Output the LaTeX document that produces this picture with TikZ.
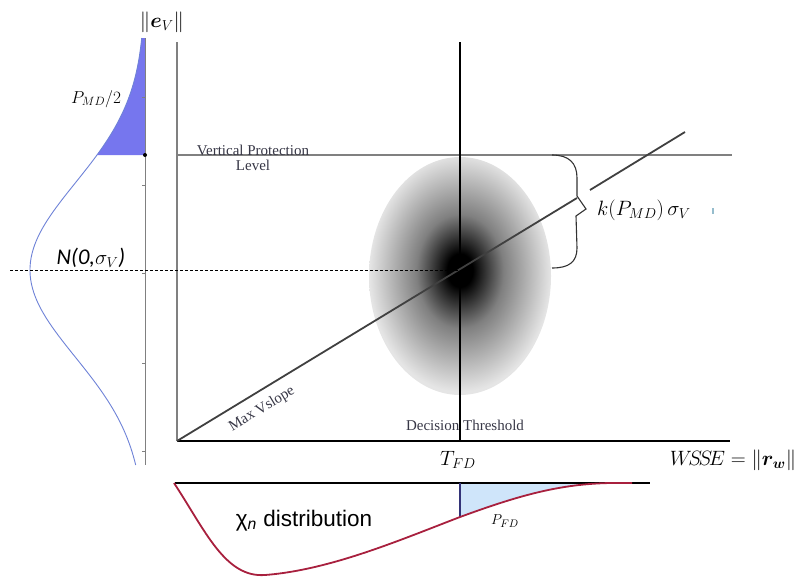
\documentclass[tikz,border=0pt]{standalone}
\usepackage{fontspec}
\usepackage{bm}
\newfontfamily\serifTNR{Liberation Serif}
\newfontfamily\sansArial{Liberation Sans}
\newfontfamily\sansCalibri{Carlito}
\definecolor{tailblue}{RGB}{118,118,238}
\definecolor{gausscurve}{RGB}{110,130,215}
\definecolor{chired}{RGB}{168,32,62}
\definecolor{fdblue}{RGB}{207,229,250}
\definecolor{axisgray}{RGB}{128,128,128}
\definecolor{labelgray}{RGB}{55,55,70}
\pgfdeclareradialshading{errorblob}{\pgfpoint{0bp}{1.3bp}}{color(0bp)=(black); color(3.5bp)=(black); color(12bp)=(black!50); color(25bp)=(black!10); color(50bp)=(black!10)}
\begin{document}
\begin{tikzpicture}[x=1pt, y=-1pt,
  oldlabel/.style={font=\serifTNR\fontsize{15}{15}\selectfont, text=labelgray, inner sep=0pt},
  mathlabel/.style={font=\fontsize{20}{24}\selectfont, inner sep=0pt}]
  \useasboundingbox (0,0) rectangle (805,576);

  % Error ellipse
  \shade[shading=errorblob] (460,276) ellipse (91 and 119);
  \coordinate (centre) at (460,270);

  % Axes
  \coordinate (origin) at (177,441);
  \draw[axisgray, line width=2.4] (177,42) -- (origin);
  \draw[line width=1.8] (origin) -- (730,441);
  \node[mathlabel] (ev) at (162,22) {$\|\bm{e}_V\|$};
  \node[mathlabel, font=\fontsize{21.5}{24}\selectfont] (wsse) at (733,460) {$W\!S\!S\!E=\|\bm{r}_{\bm{w}}\|$};

  % Vertical protection level
  \draw[axisgray, line width=2.4] (177,155) -- (732,155);
  \node[oldlabel, anchor=north, align=center] (vpl) at (253,145) {Vertical Protection\\Level};

  % Decision threshold
  \draw[line width=1.3] (460,42) -- (460,441);
  \node[oldlabel] (decision) at (465,425) {Decision Threshold};
  \node[mathlabel] (tfd) at (458,460) {$T_{FD}$};

  % Max Vslope line, broken at the brace
  \coordinate (gapL) at (577,198);
  \coordinate (gapR) at (590,190);
  \draw[black!75, line width=1.8] (origin) -- (gapL);
  \draw[black!75, line width=1.8] (gapR) -- (685,132);
  \node[oldlabel, rotate=31.2] (maxslope) at (262,409) {Max Vslope};

  % Brace k(P_MD) sigma_V
  \draw[black!80, line width=1.1] (552,155) .. controls (569,155) and (577,163) .. (577,178)
    -- (577,196) -- (586,209) -- (576,216) -- (577,248)
    .. controls (577,262) and (569,268) .. (552,268);
  \node[mathlabel, font=\fontsize{22}{24}\selectfont, anchor=west] (kpmd) at (597,210) {$k(P_{MD})\,\sigma_V$};
  \draw[cyan!40!gray!70, line width=1.1] (713,208) -- (713,214);

  % Gaussian of the vertical error
  \fill[tailblue] (145,38) -- plot[domain=38:155, samples=40] ({145-115*exp(-0.5*((\x-270)/87)^2)}, \x) -- (145,155) -- cycle;
  \draw[axisgray, line width=0.7] (145,38) -- (145,465);
  \foreach \ty in {97,185,273,363,451}
    \draw[axisgray, line width=0.6] (142,\ty) -- (145,\ty);
  \draw[gausscurve, line width=0.9] plot[domain=38:465, samples=100] ({145-115*exp(-0.5*((\x-270)/87)^2)}, \x);
  \fill (145,155) circle (2);
  \draw[densely dashed, line width=0.6] (10,270) -- (centre);
  \node[mathlabel, font=\fontsize{18}{20}\selectfont] (pmd) at (96,99) {$P_{MD}/2$};
  \node[font=\sansCalibri\itshape\fontsize{22.5}{24}\selectfont, inner sep=0pt] (nzero) at (91,258) {N(0,$\sigma_V$)};

  % Chi distribution of the WSSE
  \fill[fdblue] (460,483) -- (460,517) .. controls (520,495) and (560,484) .. (610,483) -- cycle;
  \draw[line width=1.5] (175,483) -- (650,483);
  \draw[black!55!blue!60!gray, line width=1.5] (460,483) -- (460,517);
  \draw[chired, line width=1.8] (174,483) .. controls (205,530) and (225,578) .. (265,575)
    .. controls (330,570) and (400,540) .. (460,517)
    .. controls (520,495) and (560,484) .. (610,483) -- (632,483);
  \node[font=\sansArial\fontsize{22.5}{24}\selectfont, inner sep=0pt] (chilabel) at (304,521) {χ\textsubscript{\itshape n} distribution};
  \node[mathlabel, font=\fontsize{15}{17}\selectfont] (pfd) at (505,521) {$P_{FD}$};
\end{tikzpicture}
\end{document}
